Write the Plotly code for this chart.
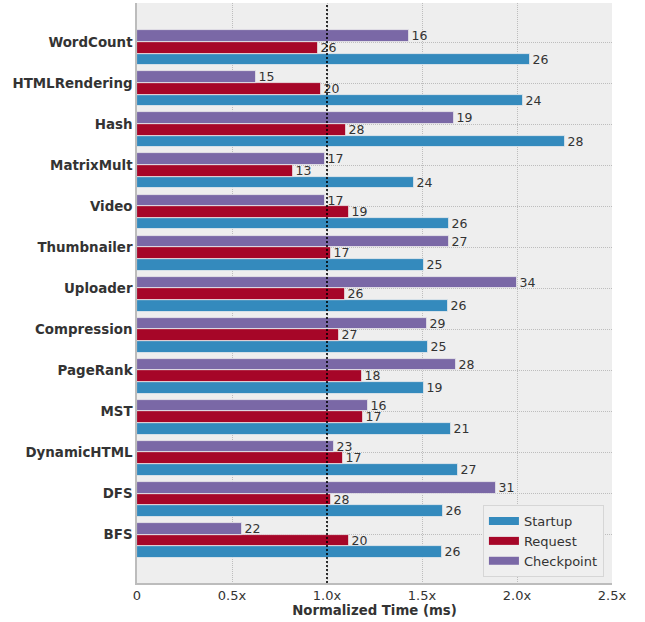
import plotly.graph_objects as go

categories = ["WordCount", "HTMLRendering", "Hash", "MatrixMult", "Video", "Thumbnailer",
              "Uploader", "Compression", "PageRank", "MST", "DynamicHTML", "DFS", "BFS"]

startup = [2.07, 2.03, 2.25, 1.46, 1.64, 1.51, 1.635, 1.53, 1.51, 1.65, 1.69, 1.61, 1.605]
request = [0.95, 0.97, 1.10, 0.82, 1.115, 1.02, 1.095, 1.065, 1.185, 1.19, 1.085, 1.02, 1.115]
checkpoint = [1.43, 0.625, 1.67, 0.99, 0.99, 1.64, 2.0, 1.525, 1.68, 1.215, 1.035, 1.89, 0.55]

startup_labels = [26, 24, 28, 24, 26, 25, 26, 25, 19, 21, 27, 26, 26]
request_labels = [26, 20, 28, 13, 19, 17, 26, 27, 18, 17, 17, 28, 20]
checkpoint_labels = [16, 15, 19, 17, 17, 27, 34, 29, 28, 16, 23, 31, 22]

x_tickvals = [0, 0.5, 1.0, 1.5, 2.0, 2.5]
x_ticktext = ["0", "0.5x", "1.0x", "1.5x", "2.0x", "2.5x"]

series = [
    ("Startup", startup, startup_labels, "#348ABD", 0.425),
    ("Request", request, request_labels, "#A60628", 0.142),
    ("Checkpoint", checkpoint, checkpoint_labels, "#7A68A6", -0.142),
]

FONT = "DejaVu Sans"
TXT = "#333333"
BAR_H = 0.285

fig = go.Figure()
idx = list(range(len(categories)))
for name, vals, labs, color, off in series:
    fig.add_trace(go.Bar(
        x=vals, y=[i + off for i in idx], orientation="h", width=BAR_H,
        marker=dict(color=color, line=dict(color="#eeeeee", width=0.8)),
        text=[str(v) for v in labs], textposition="outside",
        textfont=dict(family=FONT, size=12.5, color=TXT),
        constraintext="none", cliponaxis=False, showlegend=False, name=name,
    ))

# legend proxies
for name, vals, labs, color, off in series:
    fig.add_trace(go.Scatter(x=[None], y=[None], mode="lines", name=name,
                             line=dict(color=color, width=8)))

fig.add_shape(type="line", xref="x", yref="paper", x0=1.0, x1=1.0, y0=0, y1=1,
              line=dict(color="black", width=1.6, dash="2px,2px"), layer="above")

fig.update_layout(
    width=645, height=622,
    margin=dict(l=137, r=33, t=3, b=39),
    paper_bgcolor="white", plot_bgcolor="#eeeeee",
    barmode="overlay", bargap=0,
    font=dict(family=FONT, size=13, color=TXT),
    xaxis=dict(
        range=[0, 2.5], tickvals=x_tickvals, ticktext=x_ticktext,
        showgrid=True, gridcolor="#bdbdbd", griddash="1px,1px", gridwidth=1,
        zeroline=False, showline=True, linecolor="#bcbcbc", linewidth=1.5,
        ticks="", tickfont=dict(family=FONT, size=13, color=TXT),
        title=dict(text="<b>Normalized Time (ms)</b>", font=dict(family=FONT, size=13.3, color=TXT), standoff=2),
    ),
    yaxis=dict(
        range=[13.18, -0.95], tickvals=idx, ticktext=[f"<b>{c}</b>" for c in categories],
        showgrid=True, gridcolor="#bdbdbd", griddash="1px,1px", gridwidth=1,
        zeroline=False, showline=True, linecolor="#bcbcbc", linewidth=1.5,
        ticks="", tickfont=dict(family=FONT, size=13.4, color=TXT),
    ),
    legend=dict(
        x=0.983, y=0.0103, xanchor="right", yanchor="bottom",
        bgcolor="#efefef", bordercolor="#d6d6d6", borderwidth=1,
        font=dict(family=FONT, size=13, color=TXT), traceorder="normal",
        itemwidth=30,
    ),
)

fig.write_html("out.html")
